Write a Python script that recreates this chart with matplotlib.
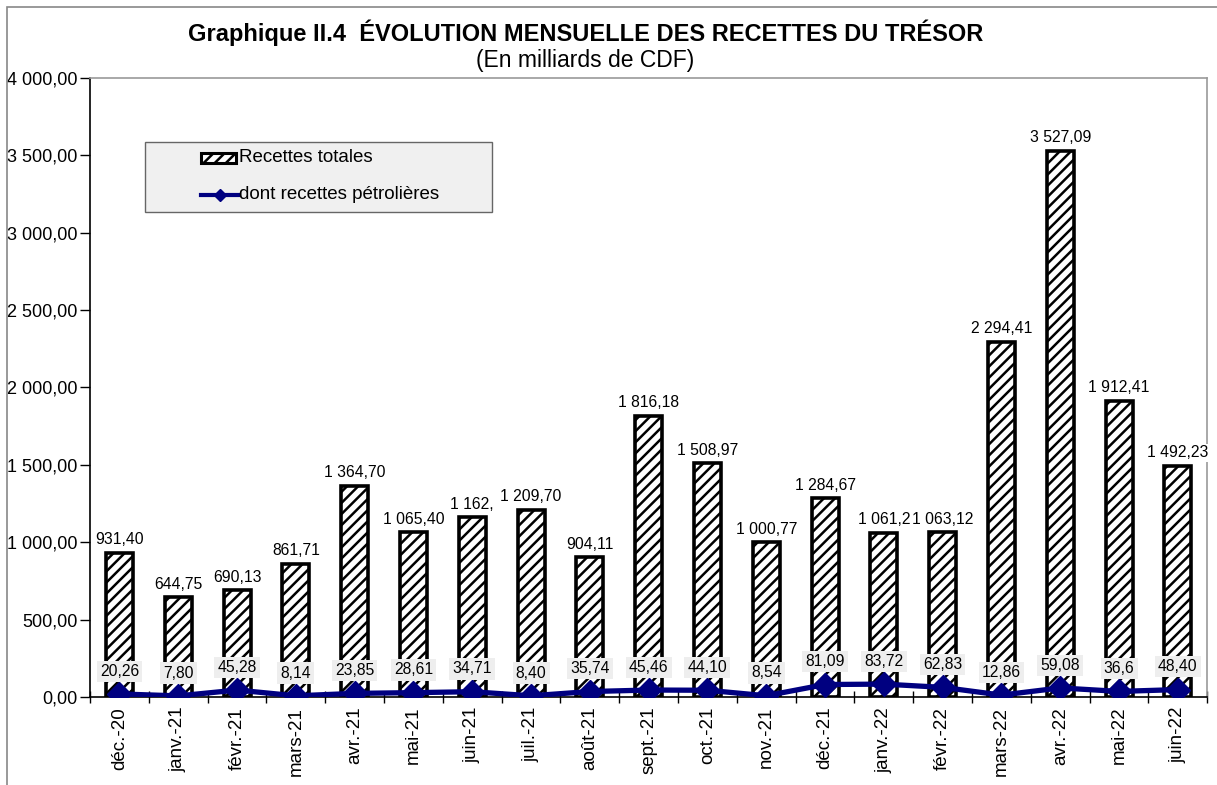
import numpy as np
import matplotlib.pyplot as plt
from matplotlib.patches import Rectangle
from matplotlib.lines import Line2D

plt.rcParams['font.family'] = ['Liberation Sans', 'DejaVu Sans']
plt.rcParams['hatch.linewidth'] = 1.8

months = ['déc.-20', 'janv.-21', 'févr.-21', 'mars-21', 'avr.-21', 'mai-21',
          'juin-21', 'juil.-21', 'août-21', 'sept.-21', 'oct.-21', 'nov.-21',
          'déc.-21', 'janv.-22', 'févr.-22', 'mars-22', 'avr.-22', 'mai-22',
          'juin-22']
totales = [931.40, 644.75, 690.13, 861.71, 1364.70, 1065.40, 1162.00, 1209.70,
           904.11, 1816.18, 1508.97, 1000.77, 1284.67, 1061.25, 1063.12,
           2294.41, 3527.09, 1912.41, 1492.23]
petrole = [20.26, 7.80, 45.28, 8.14, 23.85, 28.61, 34.71, 8.40, 35.74, 45.46,
           44.10, 8.54, 81.09, 83.72, 62.83, 12.86, 59.08, 36.60, 48.40]


def fr(v):
    # french number format: 1 234,56
    s = f'{v:,.2f}'
    return s.replace(',', ' ').replace('.', ',')


lab_tot = [fr(v) for v in totales]
lab_pet = [fr(v) for v in petrole]
# labels clipped in the original chart
lab_tot[6] = '1 162,'
lab_tot[13] = '1 061,2'
lab_pet[17] = '36,6'

NAVY = '#000080'
FS = 13
LFS = 11.3

fig = plt.figure(figsize=(12.17, 7.85), dpi=100)
ax = fig.add_axes([0.074, 0.112, 0.918, 0.789])

x = np.arange(len(months))
ax.bar(x, totales, width=0.46, color='white', edgecolor='black',
       linewidth=2.6, hatch='///', zorder=2)
ax.plot(x, petrole, color=NAVY, lw=3.8, marker='D', markersize=12, zorder=4)

for i in range(len(x)):
    ax.annotate(lab_tot[i], (x[i], totales[i]), xytext=(0, 4),
                textcoords='offset points', ha='center', va='bottom',
                fontsize=LFS, zorder=5,
                bbox=dict(boxstyle='square,pad=0.1', fc='white', ec='none'))
    ax.annotate(lab_pet[i], (x[i], petrole[i]), xytext=(0, 11),
                textcoords='offset points', ha='center', va='bottom',
                fontsize=LFS, zorder=5,
                bbox=dict(boxstyle='square,pad=0.2', fc='#eeeeee', ec='none'))

ax.set_xlim(-0.5, len(months) - 0.5)
ax.set_ylim(0, 4000)
yt = np.arange(0, 4001, 500)
ax.set_yticks(yt)
ax.set_yticklabels([fr(v) for v in yt], fontsize=FS)
ax.set_xticks(x)
ax.set_xticklabels(months, rotation=90, fontsize=13.5)
ax.tick_params(axis='x', length=0, pad=7)
ax.set_xticks(np.arange(-0.5, len(months)), minor=True)
ax.tick_params(axis='x', which='minor', length=8, width=1, direction='inout')
ax.tick_params(axis='y', length=7, width=1, direction='out', pad=2)

for s in ['top', 'right']:
    ax.spines[s].set_color('#999999')
    ax.spines[s].set_linewidth(1.2)
for s in ['left', 'bottom']:
    ax.spines[s].set_color('black')
    ax.spines[s].set_linewidth(1.2)

# legend box drawn by hand (wide padding as in the original)
ax.add_patch(Rectangle((0.049, 0.7835), 0.311, 0.113, transform=ax.transAxes,
                       fc='#f0f0f0', ec='#666666', lw=1, zorder=6))
ax.add_patch(Rectangle((0.099, 0.863), 0.032, 0.016, transform=ax.transAxes,
                       fc='white', ec='black', lw=2.2, hatch='///', zorder=7))
ax.text(0.133, 0.871, 'Recettes totales', transform=ax.transAxes,
        ha='left', va='center', fontsize=FS + 0.5, zorder=7)
ax.add_line(Line2D([0.099, 0.133], [0.811, 0.811], transform=ax.transAxes,
                   color=NAVY, lw=3, zorder=7))
ax.add_line(Line2D([0.116], [0.811], transform=ax.transAxes, color=NAVY,
                   marker='D', markersize=6, zorder=8))
ax.text(0.133, 0.811, 'dont recettes pétrolières', transform=ax.transAxes,
        ha='left', va='center', fontsize=FS + 0.5, zorder=7)

fig.text(0.481, 0.958, 'Graphique II.4  ÉVOLUTION MENSUELLE DES RECETTES DU TRÉSOR',
         ha='center', va='center', fontsize=17, fontweight='bold')
fig.text(0.481, 0.923, '(En milliards de CDF)', ha='center', va='center',
         fontsize=16.5)

# outer frame of the chart
fig.patches.append(Rectangle((0.006, -0.05), 1.2, 1.041,
                             transform=fig.transFigure, fill=False,
                             ec='#888888', lw=1.2))

fig.savefig('out.png', dpi=100)
